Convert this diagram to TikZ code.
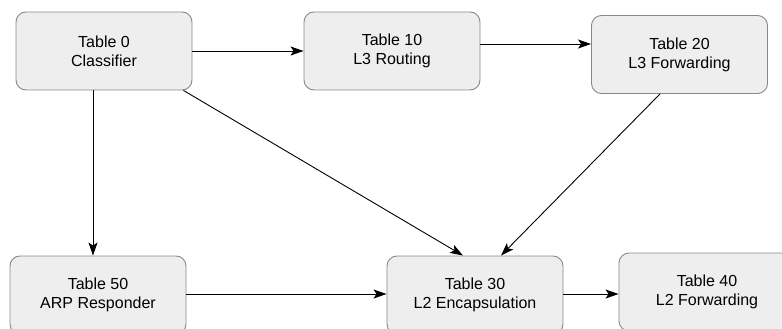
\documentclass[tikz,border=0pt]{standalone}
\usepackage{fontspec}
\setmainfont{Liberation Sans}
\usetikzlibrary{arrows.meta,calc}
\definecolor{boxfill}{HTML}{EEEEEE}
\definecolor{boxline}{HTML}{888888}
\begin{document}
\begin{tikzpicture}[x=1pt,y=-1pt,
  tbl/.style={draw=boxline,fill=boxfill,rounded corners=10pt,line width=0.9pt,
    minimum width=176pt,minimum height=78pt,align=center,inner sep=0pt,
    font=\fontsize{16pt}{19pt}\selectfont},
  arr/.style={draw=black,line width=0.9pt,-{Stealth[length=13pt,width=9pt,inset=3pt]}}]
\useasboundingbox (0,0) rectangle (782,329);
\node[tbl] (t0)  at (104,51)  {Table 0\\Classifier};
\node[tbl] (t10) at (392,51)  {Table 10\\L3 Routing};
\node[tbl] (t20) at (679.5,54.5) {Table 20\\L3 Forwarding};
\node[tbl] (t50) at (98,295)  {Table 50\\ARP Responder};
\node[tbl] (t30) at (475,295) {Table 30\\L2 Encapsulation};
\node[tbl] (t40) at (707,292) {Table 40\\L2 Forwarding};
\draw[arr] (t0.east) -- (t10.west);
\draw[arr] ([yshift=7pt]t10.east) -- ([yshift=10.5pt]t20.west);
\draw[arr] ([xshift=-9pt]t0.south east) -- ([xshift=-12pt]t30.north);
\draw[arr] ([xshift=-19.5pt]t20.south) -- ([xshift=26pt]t30.north);
\draw[arr] ([xshift=-11pt]t0.south) -- ([xshift=-5pt]t50.north);
\draw[arr] ([yshift=1pt]t50.east) -- ([yshift=1pt]t30.west);
\draw[arr] ([yshift=1pt]t30.east) -- ([yshift=-2pt]t40.west);
\end{tikzpicture}
\end{document}
